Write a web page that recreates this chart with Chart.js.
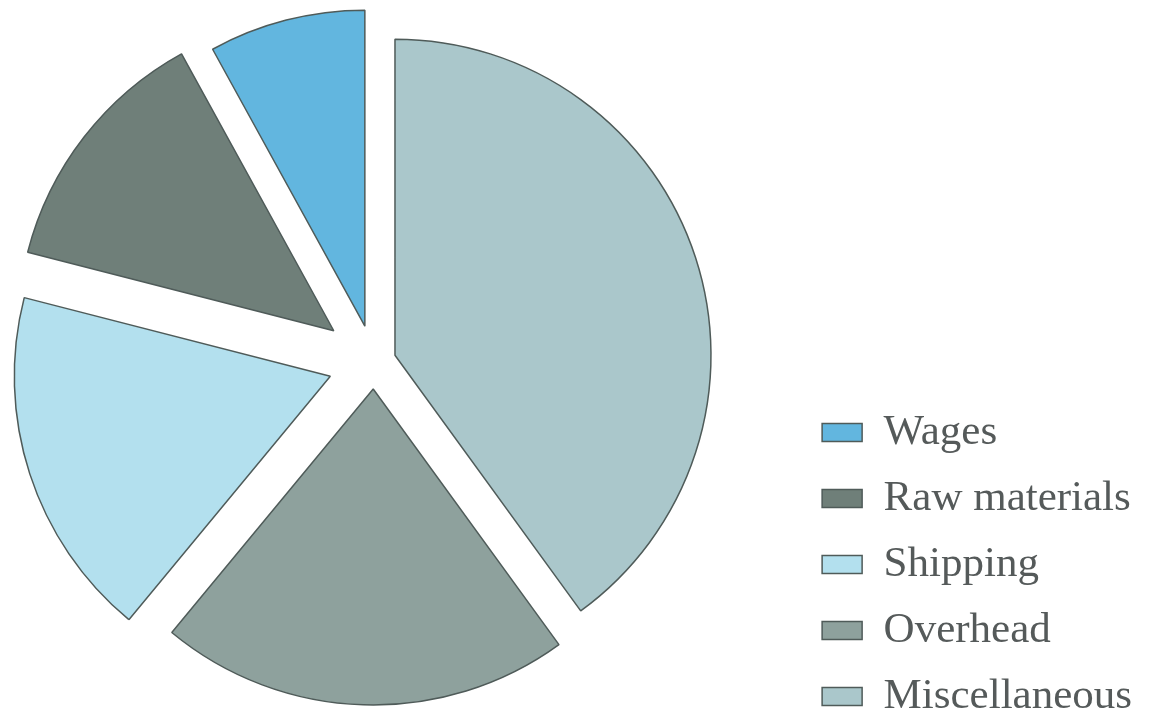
<!DOCTYPE html>
<html>
<head>
<meta charset="utf-8">
<script src="https://cdn.jsdelivr.net/npm/chart.js@4.4.1/dist/chart.umd.min.js"></script>
<style>
  html, body { margin: 0; padding: 0; background: #fff; overflow: hidden; }
  body { width: 1157px; height: 709px; position: relative; }
  /* canvas runs a bit past the window so pie and legend land where the original has them */
  #wrap { position: absolute; left: -51px; top: -17px; width: 1193px; height: 758px; }
</style>
</head>
<body>
<div id="wrap"><canvas id="costs"></canvas></div>
<script>
// slices go clockwise from 12 o'clock, legend is shown reversed
var labels = ['Miscellaneous', 'Overhead', 'Shipping', 'Raw materials', 'Wages'];
var shares = [40, 21, 18, 13, 8];

var colors = ['#aac7cb', '#8ea19d', '#b3e0ee', '#6f7f79', '#62b6df'];
var explode = [22, 27, 46, 51, 37]; // px each slice is pulled out

// pull each slice out along its middle angle
var explodePlugin = {
    id: 'explode',
    afterDatasetsUpdate: function(chart) {
        var arcs = chart.getDatasetMeta(0).data;
        arcs.forEach(function(arc, i) {
            var mid = (arc.startAngle + arc.endAngle) / 2;
            arc.x += explode[i] * Math.cos(mid);
            arc.y += explode[i] * Math.sin(mid);
        });
    }
};

var ctx = document.getElementById('costs').getContext('2d');
var costsChart = new Chart(ctx, {
    type: 'pie',
    data: {
        labels: labels,
        datasets: [{
            data: shares,
            backgroundColor: colors,
            borderColor: '#4f5b59',
            borderWidth: 1.5
        }]
    },
    options: {
        responsive: true,
        maintainAspectRatio: false,
        animation: false,
        events: [],
        radius: 316,
        plugins: {
            tooltip: {enabled: false},
            legend: {
                position: 'right',
                align: 'end',
                reverse: true,
                labels: {
                    boxWidth: 40,
                    boxHeight: 18,
                    padding: 23,
                    color: '#555a5a',
                    font: {family: '"Liberation Serif", serif', size: 43}
                }
            }
        }
    },
    plugins: [explodePlugin]
});
</script>
</body>
</html>
